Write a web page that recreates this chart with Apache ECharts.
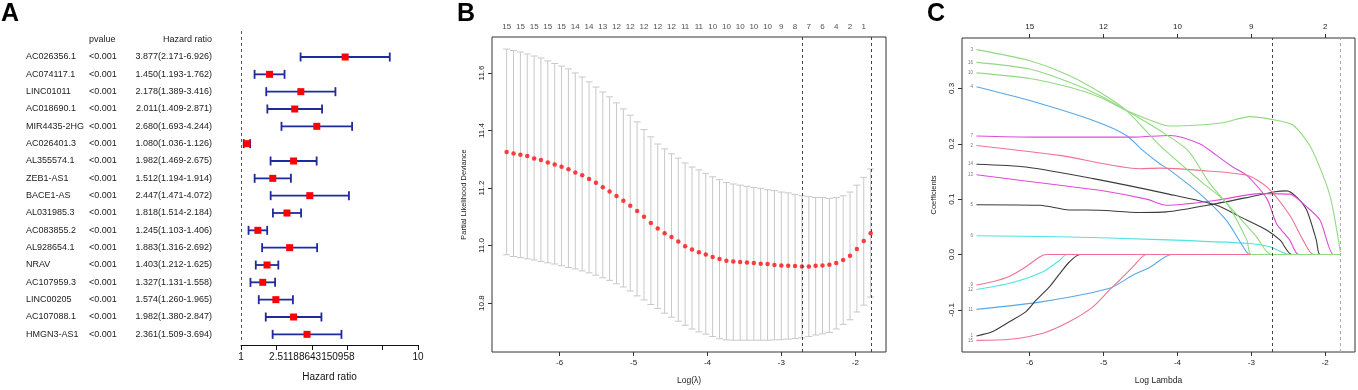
<!DOCTYPE html>
<html>
<head>
<meta charset="utf-8">
<script src="https://cdn.jsdelivr.net/npm/echarts@6/dist/echarts.min.js"></script>
<style>
  html, body { margin: 0; background: #fff; }
  #chart { width: 1358px; height: 390px; }
</style>
</head>
<body>
<div id="chart"></div>
<script>
const FONT = '"Liberation Sans", Arial, Helvetica, sans-serif';

// ---- panel A: univariate Cox, hazard ratios ----
const genes = ['AC026356.1', 'AC074117.1', 'LINC01011', 'AC018690.1', 'MIR4435-2HG', 'AC026401.3', 'AL355574.1',
  'ZEB1-AS1', 'BACE1-AS', 'AL031985.3', 'AC083855.2', 'AL928654.1', 'NRAV', 'AC107959.3', 'LINC00205', 'AC107088.1', 'HMGN3-AS1'];
const pvalues = genes.map(() => '<0.001');
const hr = [3.877, 1.450, 2.178, 2.011, 2.680, 1.080, 1.982, 1.512, 2.447, 1.818, 1.245, 1.883, 1.403, 1.327, 1.574, 1.982, 2.361];
const hrLow = [2.171, 1.193, 1.389, 1.409, 1.693, 1.036, 1.469, 1.194, 1.471, 1.514, 1.103, 1.316, 1.212, 1.131, 1.260, 1.380, 1.509];
const hrHigh = [6.926, 1.762, 3.416, 2.871, 4.244, 1.126, 2.675, 1.914, 4.072, 2.184, 1.406, 2.692, 1.625, 1.558, 1.965, 2.847, 3.694];
const hrLabelTicks = [1, 2.51188643150958, 10];

// ---- panel B: cv.glmnet partial likelihood deviance ----
const logLambda = [-6.717, -6.624, -6.531, -6.438, -6.345, -6.253, -6.160, -6.067, -5.974, -5.881,
  -5.788, -5.695, -5.602, -5.509, -5.416, -5.324, -5.231, -5.138, -5.045, -4.952,
  -4.859, -4.766, -4.673, -4.580, -4.487, -4.395, -4.302, -4.209, -4.116, -4.023,
  -3.930, -3.837, -3.744, -3.651, -3.558, -3.466, -3.373, -3.280, -3.187, -3.094,
  -3.001, -2.908, -2.815, -2.722, -2.629, -2.537, -2.444, -2.351, -2.258, -2.165,
  -2.072, -1.979, -1.886, -1.793];
const cvMean = [11.325, 11.320, 11.316, 11.311, 11.303, 11.297, 11.289, 11.282, 11.274, 11.265,
  11.254, 11.244, 11.231, 11.218, 11.203, 11.188, 11.172, 11.156, 11.138, 11.120,
  11.100, 11.078, 11.059, 11.043, 11.030, 11.014, 10.998, 10.986, 10.977, 10.969,
  10.960, 10.953, 10.947, 10.945, 10.943, 10.941, 10.939, 10.937, 10.936, 10.932,
  10.931, 10.930, 10.929, 10.927, 10.927, 10.930, 10.931, 10.933, 10.939, 10.950,
  10.965, 10.988, 11.016, 11.043];
const cvUpper = [11.683, 11.678, 11.673, 11.666, 11.659, 11.652, 11.642, 11.633, 11.624, 11.614,
  11.600, 11.586, 11.569, 11.551, 11.534, 11.517, 11.496, 11.475, 11.453, 11.430,
  11.403, 11.378, 11.353, 11.336, 11.319, 11.304, 11.287, 11.273, 11.263, 11.251,
  11.239, 11.229, 11.219, 11.214, 11.210, 11.206, 11.202, 11.199, 11.194, 11.191,
  11.186, 11.183, 11.178, 11.173, 11.170, 11.167, 11.167, 11.164, 11.167, 11.173,
  11.186, 11.210, 11.237, 11.266];
const cvLower = [10.968, 10.962, 10.958, 10.954, 10.950, 10.945, 10.940, 10.936, 10.930, 10.924,
  10.919, 10.912, 10.905, 10.897, 10.888, 10.879, 10.867, 10.856, 10.842, 10.825,
  10.811, 10.795, 10.781, 10.765, 10.751, 10.737, 10.723, 10.710, 10.700, 10.692,
  10.684, 10.676, 10.672, 10.671, 10.671, 10.671, 10.671, 10.671, 10.671, 10.672,
  10.673, 10.675, 10.677, 10.679, 10.684, 10.689, 10.693, 10.698, 10.710, 10.726,
  10.742, 10.769, 10.793, 10.821];
// non-zero counts shown on top, every other lambda
const nonZeroTop = [15, 15, 15, 15, 15, 14, 14, 13, 12, 12, 12, 12, 12, 11, 11, 10, 10, 10, 10, 10, 9, 8, 7, 6, 4, 2, 1];
const lambdaMin = -2.722;
const lambda1se = -1.793;

// ---- panel C: coefficient paths ----
const path01 = [[-6.72, 0.370], [-6.0, 0.350], [-5.46, 0.323], [-5.05, 0.293], [-4.69, 0.260], [-4.24, 0.197], [-3.70, 0.134], [-3.33, 0.092], [-3.06, 0.026], [-3.00, 0], [-1.793, 0]];
const path02 = [[-6.72, 0.347], [-6.0, 0.335], [-5.46, 0.311], [-5.05, 0.287], [-4.69, 0.260], [-4.24, 0.224], [-3.86, 0.188], [-3.56, 0.128], [-3.25, 0.080], [-2.93, 0.032], [-2.73, 0], [-1.793, 0]];
const path03 = [[-6.72, 0.328], [-6.0, 0.318], [-5.46, 0.302], [-5.05, 0.284], [-4.69, 0.260], [-4.24, 0.236], [-4.10, 0.232], [-3.70, 0.234], [-3.39, 0.238], [-3.02, 0.249], [-2.73, 0.244], [-2.44, 0.234], [-2.21, 0.197], [-2.03, 0.143], [-1.92, 0.098], [-1.793, 0.004]];
const path04 = [[-6.72, 0.303], [-6.0, 0.278], [-5.14, 0.242], [-4.69, 0.215], [-4.47, 0.188], [-4.24, 0.164], [-4.10, 0.152], [-3.70, 0.110], [-3.34, 0.062], [-3.11, 0.014], [-3.02, 0], [-1.793, 0]];
const path05 = [[-6.72, 0.214], [-5.96, 0.212], [-4.60, 0.212], [-4.10, 0.215], [-3.70, 0.200], [-3.47, 0.179], [-3.25, 0.158], [-3.06, 0.143], [-2.79, 0.101], [-2.66, 0.056], [-2.48, 0.026], [-2.36, 0], [-1.793, 0]];
const path06 = [[-6.72, 0.197], [-5.59, 0.179], [-4.51, 0.155], [-4.24, 0.156], [-3.70, 0.152], [-3.06, 0.143], [-2.79, 0.122], [-2.48, 0.071], [-2.30, 0.026], [-2.16, 0], [-1.793, 0]];
const path07 = [[-6.72, 0.163], [-6.05, 0.158], [-5.14, 0.137], [-4.15, 0.110], [-3.47, 0.089], [-3.15, 0.068], [-2.79, 0.044], [-2.61, 0.026], [-2.45, 0], [-1.793, 0]];
const path08 = [[-6.72, 0.144], [-5.59, 0.125], [-5.05, 0.116], [-4.42, 0.100], [-4.15, 0.089], [-3.47, 0.098], [-2.88, 0.110], [-2.48, 0.109], [-2.25, 0.086], [-2.07, 0.062], [-1.89, 0], [-1.793, 0]];
const path09 = [[-6.72, 0.090], [-5.86, 0.089], [-5.50, 0.081], [-5.05, 0.080], [-4.51, 0.076], [-4.15, 0.077], [-3.47, 0.092], [-3.02, 0.104], [-2.70, 0.113], [-2.52, 0.115], [-2.39, 0.104], [-2.25, 0.080], [-2.12, 0.026], [-2.07, 0], [-1.793, 0]];
const path10 = [[-6.72, 0.034], [-5.59, 0.032], [-4.24, 0.027], [-3.02, 0.020], [-2.75, 0.014], [-2.48, 0], [-1.793, 0]];
const path11 = [[-6.72, -0.055], [-6.50, -0.049], [-6.27, -0.039], [-6.05, -0.022], [-5.86, -0.004], [-5.77, 0], [-1.793, 0]];
const path12 = [[-6.72, -0.063], [-6.27, -0.052], [-5.82, -0.031], [-5.59, -0.010], [-5.50, 0], [-1.793, 0]];
const path13 = [[-6.72, -0.099], [-5.82, -0.085], [-4.92, -0.061], [-4.60, -0.037], [-4.37, -0.023], [-4.08, 0], [-1.793, 0]];
const path14 = [[-6.72, -0.147], [-6.50, -0.139], [-6.27, -0.121], [-6.05, -0.103], [-5.91, -0.082], [-5.73, -0.058], [-5.59, -0.034], [-5.46, -0.013], [-5.32, 0], [-1.793, 0]];
const path15 = [[-6.72, -0.155], [-6.27, -0.153], [-5.82, -0.142], [-5.46, -0.121], [-5.14, -0.094], [-4.92, -0.064], [-4.78, -0.046], [-4.60, -0.022], [-4.42, 0], [-1.793, 0]];
const coefPaths = [path10, path12, path04, path13, path07, path09, path14, path05, path08, path06, path11, path15, path01, path02, path03];
const coefIds = ['6', '12', '4', '11', '14', '5', '1', '7', '13', '2', '9', '15', '3', '16', '10'];
const coefColors = ['#4fe3e1', '#4fe3e1', '#56a8ea', '#56a8ea', '#3b3b3b', '#3b3b3b', '#3b3b3b', '#e04ad9', '#e04ad9',
  '#ee7391', '#ee7391', '#ee7391', '#92d981', '#92d981', '#92d981'];
const coefTopAt = [-6, -5, -4, -3, -2];
const coefTopDf = ['15', '12', '10', '9', '2'];

const txt = (size, extra) => Object.assign({ fontFamily: FONT, fontSize: size, color: '#222' }, extra || {});
const hrText = hr.map((v, i) => `${v.toFixed(3)}(${hrLow[i].toFixed(3)}-${hrHigh[i].toFixed(3)})`);
const tableRows = [''].concat(genes);

const chart = echarts.init(document.getElementById('chart'));

const boxAxisX = (gridIndex, min, max, name) => ({
  gridIndex, type: 'value', min, max,
  axisLine: { show: false, onZero: false },
  axisTick: { show: true, length: 4, lineStyle: { color: '#333' } },
  axisLabel: Object.assign(txt(8), { showMinLabel: false, showMaxLabel: false, margin: 7 }),
  splitLine: { show: false },
  name, nameLocation: 'middle', nameGap: 24, nameTextStyle: txt(8.5),
});
const boxAxisY = (gridIndex, min, max, name) => ({
  gridIndex, type: 'value', min, max,
  axisLine: { show: false, onZero: false },
  axisTick: { show: true, length: 4, lineStyle: { color: '#333' } },
  axisLabel: Object.assign(txt(8), { showMinLabel: false, showMaxLabel: false, margin: 6, rotate: 90, formatter: (v) => v.toFixed(1) }),
  splitLine: { show: false },
  name, nameLocation: 'middle', nameGap: 24, nameTextStyle: txt(7.5),
});

chart.setOption({
  animation: false,
  backgroundColor: '#fff',
  title: [
    { text: 'A', left: 1, top: 2, padding: 0, textStyle: txt(25, { fontWeight: 'bold', color: '#000' }) },
    { text: 'B', left: 457, top: 2, padding: 0, textStyle: txt(25, { fontWeight: 'bold', color: '#000' }) },
    { text: 'C', left: 927, top: 2, padding: 0, textStyle: txt(25, { fontWeight: 'bold', color: '#000' }) },
  ],
  grid: [
    { left: 241, top: 31, width: 177, height: 312 },
    { left: 492, top: 37, width: 394, height: 315, show: true, borderColor: '#333', borderWidth: 1, backgroundColor: 'transparent' },
    { left: 962, top: 38, width: 393, height: 314, show: true, borderColor: '#333', borderWidth: 1, backgroundColor: 'transparent' },
  ],
  xAxis: [
    {
      gridIndex: 0, type: 'value', min: 0, max: 1, interval: 0.2, offset: 2,
      axisLine: { show: true, onZero: false, lineStyle: { color: '#111' } },
      axisTick: { show: true, length: 5, lineStyle: { color: '#111' } },
      axisLabel: Object.assign(txt(10, { color: '#111' }), {
        margin: 7,
        formatter: (v) => {
          const hit = hrLabelTicks.find((t) => Math.abs(Math.log10(t) - v) < 1e-6);
          return hit === undefined ? '' : String(hit);
        },
      }),
      splitLine: { show: false },
      name: 'Hazard ratio', nameLocation: 'middle', nameGap: 27, nameTextStyle: txt(10, { color: '#111' }),
    },
    boxAxisX(1, -6.915, -1.585, 'Log(λ)'),
    boxAxisX(2, -6.916, -1.597, 'Log Lambda'),
    {
      gridIndex: 2, type: 'value', min: -6.916, max: -1.597, position: 'top',
      axisLine: { show: false, onZero: false },
      axisTick: { show: true, length: 4, lineStyle: { color: '#333' } },
      axisLabel: Object.assign(txt(8), {
        margin: 7, showMinLabel: false, showMaxLabel: false,
        formatter: (v) => {
          const k = coefTopAt.indexOf(v);
          return k < 0 ? '' : coefTopDf[k];
        },
      }),
      splitLine: { show: false },
    },
  ],
  yAxis: [
    {
      // table text: gene, p value, HR (95% CI)
      gridIndex: 0, type: 'category', inverse: true, position: 'left', offset: 207,
      data: tableRows,
      axisLine: { show: false }, axisTick: { show: false },
      axisLabel: {
        align: 'left', margin: 8, interval: 0,
        formatter: (value, index) => index === 0
          ? '{g| }{p|pvalue}{h|Hazard ratio}'
          : `{g|${genes[index - 1]}}{p|${pvalues[index - 1]}}{h|${hrText[index - 1]}}`,
        rich: {
          g: txt(9, { width: 63, align: 'left' }),
          p: txt(9, { width: 52, align: 'left' }),
          h: txt(9, { width: 71, align: 'right' }),
        },
      },
    },
    {
      gridIndex: 0, type: 'value', inverse: true, min: -0.5, max: 17.5, show: false,
    },
    boxAxisY(1, 10.63, 11.725, 'Partial Likelihood Deviance'),
    boxAxisY(2, -0.176, 0.391, 'Coefficients'),
  ],
  series: [
    {
      name: 'hazard ratio',
      type: 'custom',
      xAxisIndex: 0,
      yAxisIndex: 1,
      encode: { x: [0, 1, 2], y: 3 },
      data: hr.map((v, i) => [Math.log10(hrLow[i]), Math.log10(hrHigh[i]), Math.log10(v), i + 1]),
      renderItem: (params, api) => {
        const row = api.value(3);
        const y = api.coord([0, row])[1];
        const xl = api.coord([api.value(0), row])[0];
        const xh = api.coord([api.value(1), row])[0];
        const xm = api.coord([api.value(2), row])[0];
        const cap = 4.5;
        const style = { stroke: '#1f2a9c', lineWidth: 1.8 };
        return {
          type: 'group',
          children: [
            { type: 'line', shape: { x1: xl, y1: y, x2: xh, y2: y }, style },
            { type: 'line', shape: { x1: xl, y1: y - cap, x2: xl, y2: y + cap }, style },
            { type: 'line', shape: { x1: xh, y1: y - cap, x2: xh, y2: y + cap }, style },
            { type: 'rect', shape: { x: xm - 3.5, y: y - 3.5, width: 7, height: 7 }, style: { fill: '#ff0000' } },
          ],
        };
      },
    },
    {
      name: 'HR = 1',
      type: 'line',
      xAxisIndex: 0,
      yAxisIndex: 1,
      data: [],
      markLine: {
        silent: true,
        symbol: ['none', 'none'],
        label: { show: false },
        lineStyle: { type: [3, 3], color: '#555', width: 1 },
        data: [{ xAxis: 0 }],
      },
    },
    {
      name: 'cv error bars',
      type: 'custom',
      xAxisIndex: 1,
      yAxisIndex: 2,
      encode: { x: 0, y: [1, 2] },
      data: logLambda.map((x, i) => [x, cvLower[i], cvUpper[i]]),
      renderItem: (params, api) => {
        const lo = api.coord([api.value(0), api.value(1)]);
        const hi = api.coord([api.value(0), api.value(2)]);
        const w = 3.5;
        const style = { stroke: '#c8c8c8', lineWidth: 1 };
        return {
          type: 'group',
          children: [
            { type: 'line', shape: { x1: lo[0], y1: lo[1], x2: hi[0], y2: hi[1] }, style },
            { type: 'line', shape: { x1: lo[0] - w, y1: lo[1], x2: lo[0] + w, y2: lo[1] }, style },
            { type: 'line', shape: { x1: hi[0] - w, y1: hi[1], x2: hi[0] + w, y2: hi[1] }, style },
          ],
        };
      },
    },
    {
      name: 'cv mean',
      type: 'scatter',
      xAxisIndex: 1,
      yAxisIndex: 2,
      symbolSize: 4.5,
      itemStyle: { color: '#ff1010' },
      data: logLambda.map((x, i) => [x, cvMean[i]]),
      markLine: {
        silent: true,
        symbol: ['none', 'none'],
        label: { show: false },
        lineStyle: { type: [3, 3], color: '#444', width: 1 },
        data: [{ xAxis: lambdaMin }, { xAxis: lambda1se }],
      },
    },
    {
      name: 'nonzero count',
      type: 'scatter',
      xAxisIndex: 1,
      yAxisIndex: 2,
      clip: false,
      symbolSize: 1,
      itemStyle: { color: 'rgba(0,0,0,0)' },
      label: { show: true, position: 'top', distance: 6, formatter: (p) => String(p.value[2]), ...txt(8) },
      data: logLambda.filter((x, i) => i % 2 === 0).map((x, k) => [x, 11.725, nonZeroTop[k]]),
    },
    ...coefPaths.map((path, k) => ({
      name: 'coef ' + coefIds[k],
      type: 'line',
      xAxisIndex: 2,
      yAxisIndex: 3,
      showSymbol: false,
      symbol: 'none',
      smooth: 0.25,
      lineStyle: { color: coefColors[k], width: 1.1 },
      data: path,
    })),
    {
      name: 'coef ids',
      type: 'scatter',
      xAxisIndex: 2,
      yAxisIndex: 3,
      symbolSize: 1,
      itemStyle: { color: 'rgba(0,0,0,0)' },
      label: { show: true, position: 'left', distance: 3, formatter: (p) => p.value[2], ...txt(4.5, { color: '#555' }) },
      data: coefPaths.map((path, k) => [path[0][0], path[0][1], coefIds[k]]),
      markLine: {
        silent: true,
        symbol: ['none', 'none'],
        label: { show: false },
        data: [
          { xAxis: -2.718, lineStyle: { type: [3, 3], color: '#444', width: 1 } },
          { xAxis: -1.798, lineStyle: { type: [3, 3], color: '#aaa', width: 1 } },
        ],
      },
    },
  ],
});
</script>
</body>
</html>
